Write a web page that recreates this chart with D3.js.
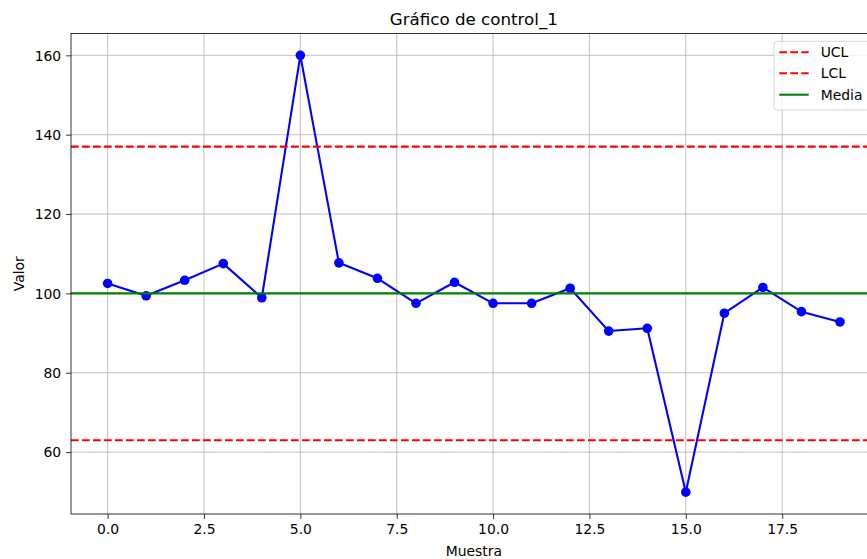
<!DOCTYPE html>
<html>
<head>
<meta charset="utf-8">
<script src="https://cdn.jsdelivr.net/npm/d3@7"></script>
<style>
  html, body { margin: 0; padding: 0; background: #fff; overflow: hidden; }
  svg { display: block; }
  text { font-family: "DejaVu Sans", sans-serif; fill: #000; }
</style>
</head>
<body>
<svg id="chart" width="867" height="559"></svg>
<script>
// Sample measurements of control_1
const samples = [0, 1, 2, 3, 4, 5, 6, 7, 8, 9, 10, 11, 12, 13, 14, 15, 16, 17, 18, 19];
const values = [102.5, 99.4, 103.3, 107.5, 98.9, 160.0, 107.7, 103.8, 97.5, 102.8,
                97.5, 97.5, 101.3, 90.5, 91.2, 49.9, 95.0, 101.5, 95.4, 92.8];

// Control limits and centre line
const limitNames = ["UCL", "LCL", "Media"];
const limitValues = [137.0, 63.0, 100.0];

const xTicks = [0, 2.5, 5, 7.5, 10, 12.5, 15, 17.5];
const yTicks = [60, 80, 100, 120, 140, 160];

const titleText = "Gráfico de control_1";
const xLabel = "Muestra";
const yLabel = "Valor";

const svg = d3.select("#chart");

const plot = { left: 71, right: 876.6, top: 33.5, bottom: 514 };

// Autoscale with 5% margins on both axes
const xPad = 0.05 * (d3.max(samples) - d3.min(samples));
const yMin = d3.min(values), yMax = d3.max(values);
const yPad = 0.05 * (yMax - yMin);

const x = d3.scaleLinear()
  .domain([d3.min(samples) - xPad, d3.max(samples) + xPad])
  .range([plot.left, plot.right]);
const y = d3.scaleLinear()
  .domain([yMin - yPad, yMax + yPad])
  .range([plot.bottom, plot.top]);

svg.append("defs").append("clipPath").attr("id", "plotclip")
  .append("rect")
  .attr("x", plot.left).attr("y", plot.top)
  .attr("width", plot.right - plot.left).attr("height", plot.bottom - plot.top);

// Grid
const grid = svg.append("g").attr("stroke", "#b0b0b0").attr("stroke-width", 0.8);
grid.selectAll("line.gx").data(xTicks).join("line")
  .attr("x1", d => x(d)).attr("x2", d => x(d))
  .attr("y1", plot.top).attr("y2", plot.bottom);
grid.selectAll("line.gy").data(yTicks).join("line")
  .attr("x1", plot.left).attr("x2", plot.right)
  .attr("y1", d => y(d)).attr("y2", d => y(d));

const body = svg.append("g").attr("clip-path", "url(#plotclip)");

// Data series
const line = d3.line().x((d, i) => x(samples[i])).y(d => y(d));
body.append("path")
  .datum(values)
  .attr("d", line)
  .attr("fill", "none")
  .attr("stroke", "blue")
  .attr("stroke-width", 2.08)
  .attr("stroke-linejoin", "round");
body.selectAll("circle").data(values).join("circle")
  .attr("cx", (d, i) => x(samples[i]))
  .attr("cy", d => y(d))
  .attr("r", 4.8)
  .attr("fill", "blue");

// Control lines
const limitColors = ["red", "red", "green"];
const limitDash = ["7.7,3.3", "7.7,3.3", null];
body.selectAll("line.limit").data(limitValues).join("line")
  .attr("class", "limit")
  .attr("x1", plot.left).attr("x2", plot.right)
  .attr("y1", d => y(d)).attr("y2", d => y(d))
  .attr("stroke", (d, i) => limitColors[i])
  .attr("stroke-width", 2.08)
  .attr("stroke-dasharray", (d, i) => limitDash[i]);

// Axes
const xAxis = svg.append("g")
  .attr("transform", `translate(0,${plot.bottom})`)
  .call(d3.axisBottom(x).tickValues(xTicks).tickFormat(d3.format(".1f")).tickSizeOuter(0).tickSizeInner(4.9).tickPadding(4.9));
const yAxis = svg.append("g")
  .attr("transform", `translate(${plot.left},0)`)
  .call(d3.axisLeft(y).tickValues(yTicks).tickFormat(d3.format("d")).tickSizeOuter(0).tickSizeInner(4.9).tickPadding(4.9));
[xAxis, yAxis].forEach(a => {
  a.select(".domain").remove();
  a.selectAll(".tick line").attr("stroke", "#000").attr("stroke-width", 0.8);
  a.selectAll(".tick text")
    .attr("font-family", "DejaVu Sans, sans-serif")
    .attr("font-size", 13.9)
    .attr("fill", "#000");
});
yAxis.selectAll(".tick text").attr("dy", "0.35em");

// Frame
svg.append("rect")
  .attr("x", plot.left).attr("y", plot.top)
  .attr("width", plot.right - plot.left).attr("height", plot.bottom - plot.top)
  .attr("fill", "none").attr("stroke", "#000").attr("stroke-width", 0.8);

// Title and axis labels
svg.append("text")
  .attr("x", (plot.left + plot.right) / 2).attr("y", 25)
  .attr("text-anchor", "middle").attr("font-size", 16.7)
  .text(titleText);
svg.append("text")
  .attr("x", (plot.left + plot.right) / 2).attr("y", 555.5)
  .attr("text-anchor", "middle").attr("font-size", 13.9)
  .text(xLabel);
svg.append("text")
  .attr("transform", `translate(24,${(plot.top + plot.bottom) / 2}) rotate(-90)`)
  .attr("text-anchor", "middle").attr("font-size", 13.9)
  .text(yLabel);

// Legend
const legend = svg.append("g");
const lgX = 774, lgY = 41.3, lgW = 95.7, lgH = 68.7;
legend.append("rect")
  .attr("x", lgX).attr("y", lgY).attr("width", lgW).attr("height", lgH)
  .attr("rx", 2.8).attr("ry", 2.8)
  .attr("fill", "white").attr("fill-opacity", 0.8)
  .attr("stroke", "#cccccc").attr("stroke-opacity", 0.8).attr("stroke-width", 1);
const rowY = [52.3, 73.3, 94.7];
const rows = legend.selectAll("g.row").data(limitNames).join("g")
  .attr("transform", (d, i) => `translate(0,${rowY[i]})`);
rows.append("line")
  .attr("x1", 779.3).attr("x2", 808.7)
  .attr("stroke", (d, i) => limitColors[i])
  .attr("stroke-width", 2.08)
  .attr("stroke-dasharray", (d, i) => limitDash[i]);
rows.append("text")
  .attr("x", 820.7).attr("dy", "0.35em")
  .attr("font-size", 13.9)
  .text(d => d);
</script>
</body>
</html>
